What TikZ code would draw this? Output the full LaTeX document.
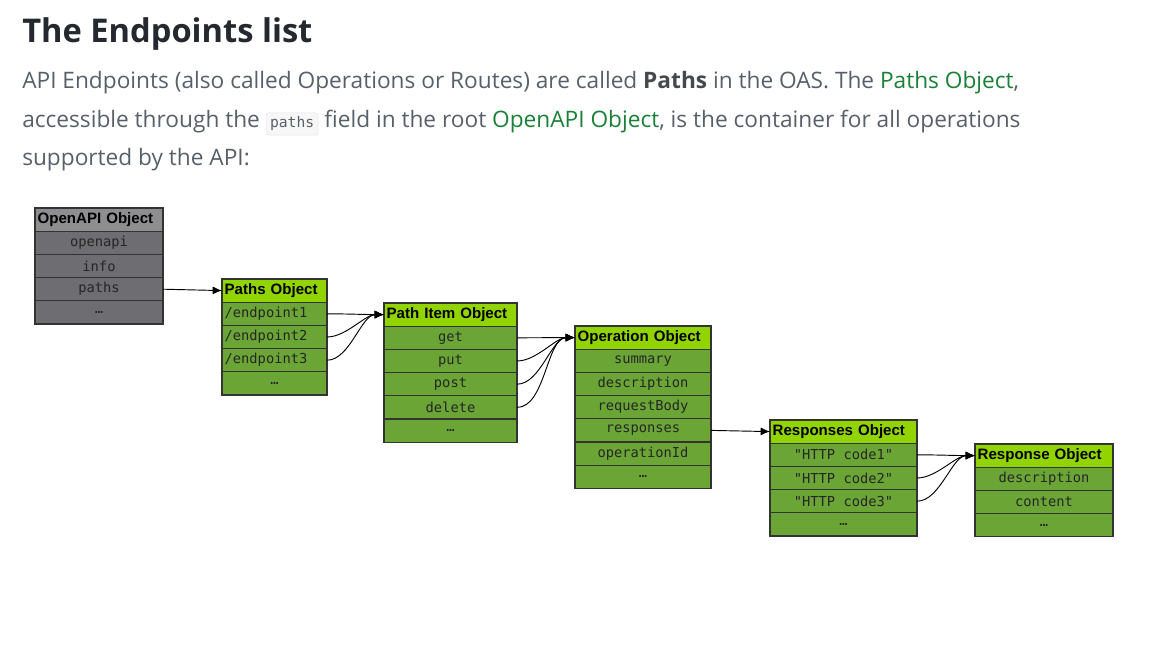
\documentclass[tikz,border=0pt]{standalone}
\usepackage{fontspec}
\setmainfont{Open Sans}
\newfontfamily\hdrfont{Liberation Sans}
\setmonofont{DejaVu Sans Mono}
\usetikzlibrary{arrows.meta}
\definecolor{titlec}{HTML}{24292F}
\definecolor{bodyc}{HTML}{57606A}
\definecolor{linkc}{HTML}{1A7F37}
\definecolor{ghdr}{HTML}{92D400}
\definecolor{grow}{HTML}{6AA536}
\definecolor{khdr}{HTML}{8E8E90}
\definecolor{krow}{HTML}{6D6D72}
\definecolor{edge}{HTML}{333333}
\newcommand\lnk[1]{\textcolor{linkc}{#1}}
\newcommand\ctr[1]{\hspace*{\fill}#1\hspace*{\fill}}
\tikzset{
  cell/.style={draw=edge,line width=0.9pt,minimum height=17.4pt,inner ysep=0pt,inner xsep=2pt,outer sep=0pt},
  hdr/.style={cell,font=\hdrfont\bfseries\fontsize{11.3}{12}\selectfont,align=left},
  row/.style={cell,font=\ttfamily\fontsize{10.3}{11}\selectfont,text=black!85},
  g hdr fill/.style={fill=ghdr}, g row fill/.style={fill=grow},
  k hdr fill/.style={fill=khdr}, k row fill/.style={fill=krow},
  conn/.style={-{Latex[length=7pt,width=6pt]},line width=0.7pt},
}
% #1 id #2 x #3 y #4 w #5 title #6 rows #7 colour prefix #8 extra row style
\newcommand\tbl[8]{%
  \pgfmathsetlengthmacro\tw{#4*0.75pt}%
  \pgfmathsetlengthmacro\tx{#4*0.75pt-4pt}%
  \node[hdr,#7 hdr fill,text width=\tx,anchor=north west] (#1-0) at (#2,#3) {#5};
  \foreach \t [count=\i, remember=\i as \j (initially 0)] in {#6}{%
    \node[row,#7 row fill,minimum width=\tw,anchor=north,#8] (#1-\i) at (#1-\j.south) {\t};}
}
\begin{document}
\begin{tikzpicture}[x=0.75pt,y=-0.75pt]
\useasboundingbox (0,0) rectangle (1176,648);
\node[anchor=base west,text=titlec,font=\fontsize{24.5}{28}\selectfont\bfseries,inner sep=0] (title) at (22,43) {The Endpoints list};
\node[anchor=base west,text=bodyc,font=\fontsize{17}{20}\selectfont,inner sep=0] (l1) at (22,89)
  {API Endpoints (also called Operations or Routes) are called \textbf{\color{titlec!85}Paths} in the OAS. The \lnk{Paths Object},};
\node[anchor=base west,text=bodyc,font=\fontsize{17}{20}\selectfont,inner sep=0] (l2) at (22,128)
  {accessible through the \tikz[baseline=(c.base)]\node[fill=black!3,draw=black!10,rounded corners=2pt,inner xsep=3pt,inner ysep=3pt,font=\ttfamily\fontsize{11}{12}\selectfont,text=bodyc] (c) {paths}; field in the root \lnk{OpenAPI Object}, is the container for all operations};
\node[anchor=base west,text=bodyc,font=\fontsize{17}{20}\selectfont,inner sep=0] (l3) at (22,166)
  {supported by the API:};

\tbl{oa}{35}{208}{128}{OpenAPI Object}{openapi,info,paths,…}{k}{}
\tbl{pa}{222}{279}{105}{Paths Object}{/endpoint1,/endpoint2,/endpoint3,\ctr{…}}{g}{align=left,text width=\tx}
\tbl{pi}{384}{303}{133}{Path Item Object}{get,put,post,delete,…}{g}{}
\tbl{op}{575}{326}{136}{Operation Object}{summary,description,requestBody,responses,operationId,…}{g}{}
\tbl{rs}{770}{420}{147}{Responses Object}{"HTTP code1","HTTP code2","HTTP code3",…}{g}{}
\tbl{re}{975}{444}{138}{Response Object}{description,content,…}{g}{}

\draw[conn] (oa-3.east) -- (pa-0.west);
\foreach \k in {1,2,3} \draw[conn] (pa-\k.east) to[out=0,in=180,looseness=0.8] (pi-0.west);
\foreach \k in {1,2,3,4} \draw[conn] (pi-\k.east) to[out=0,in=180,looseness=0.8] (op-0.west);
\draw[conn] (op-4.east) -- (rs-0.west);
\foreach \k in {1,2,3} \draw[conn] (rs-\k.east) to[out=0,in=180,looseness=0.8] (re-0.west);
\end{tikzpicture}
\end{document}
